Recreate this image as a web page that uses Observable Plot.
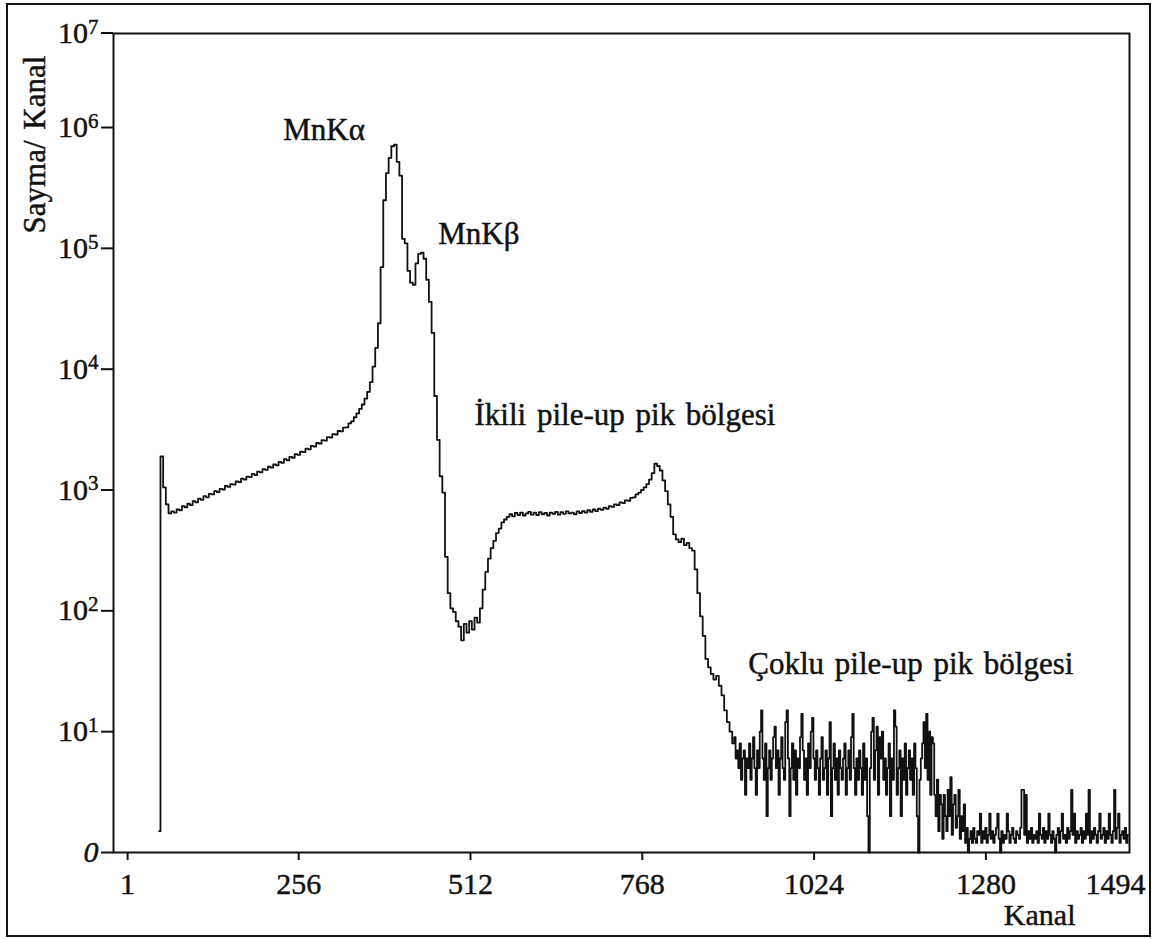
<!DOCTYPE html>
<html>
<head>
<meta charset="utf-8">
<script src="https://cdn.jsdelivr.net/npm/d3@7"></script>
<script src="https://cdn.jsdelivr.net/npm/@observablehq/plot@0.6"></script>
<style>
  body { margin: 0; background: #fff; }
  #wrap { position: relative; width: 1161px; height: 939px; }
  #border { position: absolute; left: 6px; top: 3px; width: 1141px; height: 930px; border: 2px solid #111; pointer-events: none; }
  #wrap svg { position: absolute; left: 0; top: 0; }
  #wrap svg text { stroke: #111; stroke-width: 0.45px; paint-order: stroke; }
</style>
</head>
<body>
<div id="wrap"><div id="border"></div></div>
<script>
// ---- data ----
// main part of the spectrum: one value every 4 channels, channels 48 ... 904
const mainFirstChannel = 48;
const mainChannelWidth = 4;
const mainCounts = [
  1.5,1900,1050,760,640,665,650,690,680,735,
  720,770,750,810,790,850,830,890,870,930,
  920,980,960,1020,1010,1080,1060,1120,1110,1180,
  1160,1240,1220,1290,1280,1360,1330,1420,1400,1490,
  1470,1560,1530,1630,1600,1710,1680,1800,1760,1880,
  1850,1980,1950,2080,2060,2200,2170,2320,2290,2450,
  2420,2590,2560,2740,2720,2900,2880,3080,3060,3280,
  3300,3560,3700,4000,4300,4700,5100,5700,6500,7800,
  10500,15000,24000,70000,250000,420000,560000,700000,720000,520000,
  400000,120000,110000,65000,52000,50000,75000,90000,92000,82000,
  55000,36000,20000,6000,2600,1300,950,280,140,105,
  98,82,74,57,78,66,82,70,88,80,
  105,150,210,270,330,380,440,480,540,570,
  600,630,605,645,620,650,615,640,660,625,
  650,620,655,630,645,615,650,635,660,625,
  655,635,665,640,650,630,665,645,670,650,
  680,660,690,670,700,685,715,700,735,725,
  760,750,790,780,820,815,860,870,920,950,
  1000,1050,1120,1220,1380,1650,1580,1450,1200,980,
  760,600,430,390,370,395,350,365,330,315,
  220,140,90,62,40,34,30,27,29,24,
  20,15,12,10,8
];
// multiple pile-up tail: one value every 2 channels, channels 906 ... 1492
const tailFirstChannel = 906;
const tailChannelWidth = 2;
const tailCounts = [
  9,6,7,5,8,4,6,7,3,6,
  5,8,4,6,9,5,3,7,5,10,
  15,6,4,8,2,5,7,4,6,9,
  11,5,7,3,6,9,5,4,12,15,
  6,2,5,8,4,7,3,6,5,9,
  14,7,4,6,3,8,5,10,13,6,
  4,7,5,3,6,9,4,5,7,3,
  6,12,2,5,8,4,6,3,7,5,
  4,6,8,3,5,7,4,9,14,5,
  3,6,4,7,5,3,8,4,6,2,
  0,5,10,13,4,7,11,3,9,6,
  10,4,6,3,5,8,2,6,4,15,
  11,3,5,7,2,6,4,8,3,5,
  7,4,6,3,8,5,2,0,4,6,
  8,12,5,14,4,10,3,9,
  8,3,2,4,1.5,3,2.5,1.3,3,2,
  1.5,3.3,2,4.2,1.4,2.5,3,1.6,2,3.3,
  1.3,2,1.5,2.5,1.2,1.6,
  0,1.3,1.5,1.2,1.6,1.3,1.2,1.5,1.4,2.1,
  1.2,1.5,1.3,1.6,1.2,1.4,2.1,1.3,1.5,1.2,
  1.4,1.6,2.1,1.3,0,1.5,1.2,1.4,1.3,2.1,
  1.5,1.2,1.4,1.6,1.3,1.2,1.5,1.4,1.3,1.6,
  3.3,3.3,1.4,3,1.2,1.5,1.3,1.6,1.2,1.4,
  1.3,1.5,1.2,2.1,1.4,1.3,1.6,1.2,1.5,1.3,
  2.1,1.4,1.2,1.5,1.3,0,1.4,1.6,1.2,1.5,
  2.1,1.3,1.4,1.2,1.6,1.3,1.5,3.3,1.4,2.1,
  1.2,1.5,1.3,1.4,1.6,1.2,1.5,1.3,2.1,1.4,
  3.3,1.2,1.5,1.3,1.6,1.4,1.2,1.5,2.1,1.3,
  1.4,1.6,1.2,1.5,1.3,2.1,1.4,1.2,1.5,3.3,
  1.3,1.6,2.1,1.2,1.4,1.5,1.3,1.6,1.2,1.4
];
const xTickValues = [1, 256, 512, 768, 1024, 1280];
const xEndTick = 1494;
const yTickValues = [1, 10, 100, 1e3, 1e4, 1e5, 1e6];
const yTickExponents = [null, "1", "2", "3", "4", "5", "6"];
const yTopTickValue = 6e6;          // where the figure prints its top label
const yTopTickExponent = "7";
const labelTexts = ["MnKα", "MnKβ", "İkili pile-up pik bölgesi", "Çoklu pile-up pik bölgesi"];
const labelChannels = [233, 464, 518, 926];
const labelCounts = [7.9e5, 1.08e5, 3430, 30];
const xTitle = "Kanal";
const yTitle = "Sayma/ Kanal";

// ---- build tables ----
const spectrum = [
  ...mainCounts.map((c, i) => ({channel: mainFirstChannel + i * mainChannelWidth, count: Math.max(c, 1)})),
  ...tailCounts.map((c, i) => ({channel: tailFirstChannel + i * tailChannelWidth, count: Math.max(c, 1)}))
];
const annotations = labelTexts.map((t, i) => ({label: t, channel: labelChannels[i], count: labelCounts[i]}));

const serif = "'Liberation Serif', 'DejaVu Serif', serif";
const ink = "#111";

const chart = Plot.plot({
  width: 1161,
  height: 939,
  marginLeft: 113,
  marginRight: 32,
  marginTop: 33,
  marginBottom: 87,
  style: {fontFamily: serif, background: "transparent", color: ink, overflow: "visible"},
  x: {domain: [-20, 1494]},
  y: {type: "log", domain: [1, yTopTickValue]},
  marks: [
    Plot.frame({stroke: ink, strokeWidth: 2}),
    Plot.axisX({ticks: xTickValues, tickSize: 8, tickPadding: 12, fontSize: 30, strokeWidth: 2, label: null, tickFormat: d => String(d)}),
    Plot.axisX({ticks: [xEndTick], tickSize: 0, tickPadding: 20, fontSize: 30, label: null, dx: -14, tickFormat: d => String(d)}),
    Plot.axisY({ticks: yTickValues, tickSize: 12, tickPadding: 3, fontSize: 30, strokeWidth: 2, label: null,
      tickFormat: d => { const k = yTickValues.indexOf(d); return k === 0 ? "0" : "10^" + yTickExponents[k]; }}),
    Plot.text([yTopTickValue], {y: d => d, text: () => "10^" + yTopTickExponent, frameAnchor: "left", dx: -15, textAnchor: "end", lineAnchor: "middle", fontSize: 30, fill: ink}),
    Plot.line(spectrum, {x: "channel", y: "count", curve: "step", stroke: ink, strokeWidth: 1.8}),
    Plot.text(annotations, {x: "channel", y: "count", text: "label", textAnchor: "start", lineAnchor: "bottom", fontSize: 31, fill: ink}),
    Plot.text([xTitle], {text: d => d, frameAnchor: "bottom-right", dx: -54, dy: 72, textAnchor: "end", lineAnchor: "bottom", fontSize: 30, fill: ink}),
    Plot.text([yTitle], {text: d => d, frameAnchor: "top-left", dx: -78, dy: 111, rotate: -90, textAnchor: "middle", lineAnchor: "middle", fontSize: 31, fill: ink})
  ]
});

// superscript exponents and italic zero on the y axis
const svg = d3.select(chart);
svg.selectAll("text").each(function () {
  const t = d3.select(this);
  if (t.selectAll("tspan").size() > 0) return;
  const s = t.text();
  if (s === "0" && this.parentNode.getAttribute("aria-label") === "y-axis tick label") {
    t.style("font-style", "italic");
  } else if (s.startsWith("10^")) {
    const e = s.slice(3);
    t.text("10");
    t.append("tspan").attr("dy", "-0.45em").attr("font-size", 21).text(e);
  }
});
svg.selectAll('g[aria-label="text"] text').style("word-spacing", "3px");

// short tick for the top label, drawn like the other axis ticks
const yTop = chart.scale("y").apply(yTopTickValue);
svg.append("line")
  .attr("x1", 101).attr("x2", 113)
  .attr("y1", yTop).attr("y2", yTop)
  .attr("stroke", ink).attr("stroke-width", 2);

document.getElementById("wrap").appendChild(chart);
</script>
</body>
</html>
